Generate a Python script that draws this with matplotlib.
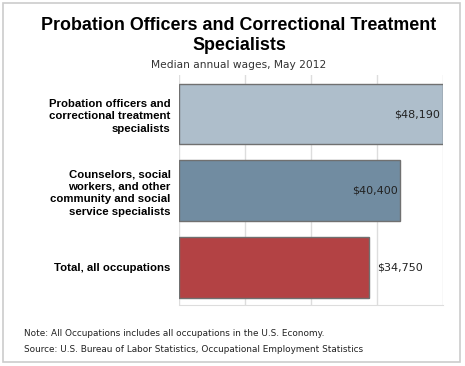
import matplotlib.pyplot as plt
from matplotlib.patches import Rectangle

# data
categories = ["Probation officers and\ncorrectional treatment\nspecialists",
              "Counselors, social\nworkers, and other\ncommunity and social\nservice specialists",
              "Total, all occupations"]
wages = [48190, 40400, 34750]
value_labels = ["$48,190", "$40,400", "$34,750"]
colors = ["#AEBECB", "#718CA1", "#B34244"]

W, H = 465, 366
fig = plt.figure(figsize=(W / 100, H / 100), dpi=100)
ax = fig.add_axes([179 / W, 1 - 305 / H, 264 / W, 230 / H])

y = list(range(len(wages)))
ax.barh(y, wages, height=0.79, color=colors, edgecolor="#707070", linewidth=1, zorder=3)
ax.set_ylim(2.49, -0.51)
ax.set_xlim(0, max(wages))

# grid, no tick labels
ax.set_xticks([max(wages) * i / 4 for i in range(5)])
ax.set_xticklabels([])
ax.set_yticks(y)
ax.set_yticklabels(categories, fontsize=8.2, fontweight="bold", family="Liberation Sans",
                   linespacing=1.3)
ax.tick_params(length=0, pad=6)
ax.grid(axis="x", color="#DDDDDD", linewidth=1, zorder=0)
for s in ["top", "right", "left"]:
    ax.spines[s].set_visible(False)
ax.spines["bottom"].set_color("#DDDDDD")
ax.spines["bottom"].set_zorder(0)

# value labels: inside for wide bars, outside for last
for i, (v, lab) in enumerate(zip(wages, value_labels)):
    if i < 2:
        ax.text(v - 500, i, lab, ha="right", va="center", fontsize=8, color="#222222", zorder=4)
    else:
        ax.text(v + 1400, i, lab, ha="left", va="center", fontsize=8, color="#222222", zorder=4)

# titles
fig.text(239 / W, 1 - 25 / H, "Probation Officers and Correctional Treatment",
         ha="center", va="center", fontsize=12.9, fontweight="bold", family="Liberation Sans")
fig.text(239 / W, 1 - 46 / H, "Specialists",
         ha="center", va="center", fontsize=12.9, fontweight="bold", family="Liberation Sans")
fig.text(239 / W, 1 - 65 / H, "Median annual wages, May 2012", ha="center", va="center",
         fontsize=7.7, color="#333333")

# notes
fig.text(24 / W, 1 - 334 / H, "Note: All Occupations includes all occupations in the U.S. Economy.",
         ha="left", va="center", fontsize=6.4, color="#222222")
fig.text(24 / W, 1 - 350 / H, "Source: U.S. Bureau of Labor Statistics, Occupational Employment Statistics",
         ha="left", va="center", fontsize=6.4, color="#222222")

# outer border
fig.patches.append(Rectangle((3 / W, 4 / H), 457 / W, 359 / H, transform=fig.transFigure,
                             fill=False, edgecolor="#CCCCCC", linewidth=1.2))

fig.savefig("out.png", dpi=100)
